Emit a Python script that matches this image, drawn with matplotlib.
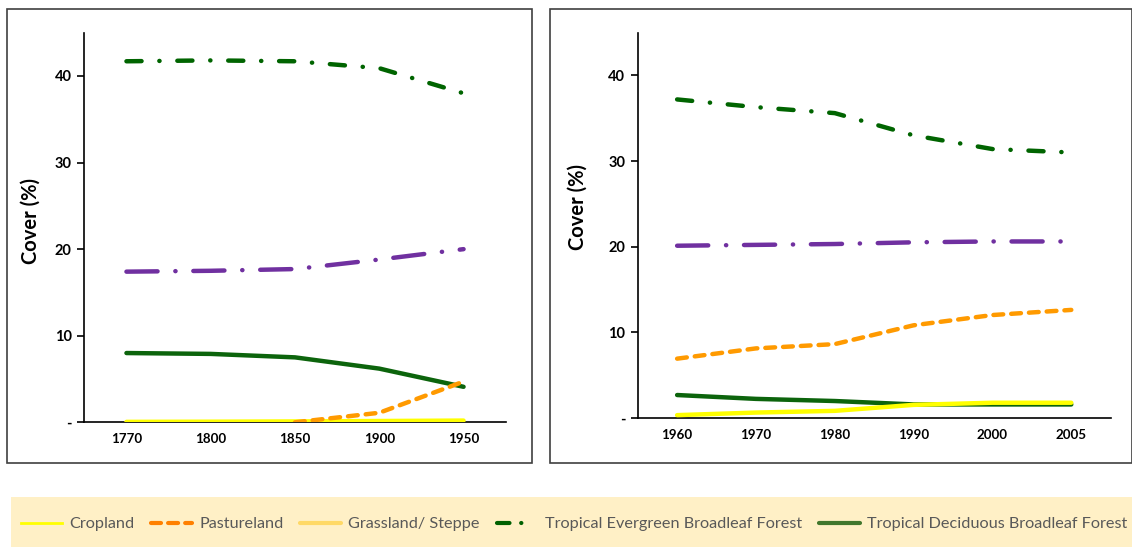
import numpy as np
import matplotlib.pyplot as plt
from matplotlib.lines import Line2D
from matplotlib.patches import Rectangle

# ---- data ----
years_left = ['1770', '1800', '1850', '1900', '1950']
cropland_left = [0.05, 0.07, 0.1, 0.15, 0.2]
pasture_left = [np.nan, np.nan, 0.0, 1.1, 4.7]
evergreen_left = [41.7, 41.8, 41.7, 40.9, 38.0]
purple_left = [17.4, 17.5, 17.7, 18.8, 20.0]
deciduous_left = [8.0, 7.9, 7.5, 6.2, 4.1]

years_right = ['1960', '1970', '1980', '1990', '2000', '2005']
cropland_right = [0.3, 0.6, 0.8, 1.5, 1.75, 1.75]
pasture_right = [6.9, 8.1, 8.6, 10.8, 12.0, 12.6]
evergreen_right = [37.2, 36.3, 35.6, 33.0, 31.4, 31.0]
purple_right = [20.1, 20.2, 20.3, 20.5, 20.6, 20.6]
deciduous_right = [2.65, 2.2, 1.95, 1.55, 1.55, 1.55]

yticks = [0, 10, 20, 30, 40]
ytick_labels = ['-', '10', '20', '30', '40']
legend_names = ['Cropland', 'Pastureland', 'Grassland/ Steppe',
                'Tropical Evergreen Broadleaf Forest',
                'Tropical Deciduous Broadleaf Forest']

W, H = 1132, 547
LW = 3.2
c_crop = '#FFFF00'
c_past = '#FF9A00'
c_ever = '#006400'
c_purp = '#7030A0'
c_deci = '#0C640C'

fig = plt.figure(figsize=(W / 100, H / 100), dpi=100)


def box(x0, y0, x1, y1):
    fig.patches.append(Rectangle((x0 / W, 1 - y1 / H), (x1 - x0) / W, (y1 - y0) / H,
                                 transform=fig.transFigure, fill=False,
                                 edgecolor='#404040', lw=1.2, zorder=0))


box(6.7, 9.3, 531.7, 462.7)
box(550.3, 9.3, 1131.5, 462.7)

# legend band
fig.patches.append(Rectangle((11 / W, 0), 1 - 11 / W, (547 - 496.7) / H,
                             transform=fig.transFigure, facecolor='#FFF0C6',
                             edgecolor='none', zorder=0))


def panel(rect, years, crop, past, ever, purp, deci, label_xy):
    ax = fig.add_axes(rect)
    x = np.arange(len(years))
    ax.plot(x, crop, color=c_crop, lw=LW, solid_capstyle='round', zorder=3)
    ax.plot(x, past, color=c_past, lw=LW, dashes=(2.2, 1.8), dash_capstyle='round', zorder=3)
    ax.plot(x, ever, color=c_ever, lw=LW, dashes=(3.4, 4.0, 0.05, 4.0), dash_capstyle='round', zorder=3)
    ax.plot(x, purp, color=c_purp, lw=LW, dashes=(7.0, 4.0, 0.05, 4.0), dash_capstyle='round', zorder=3)
    ax.plot(x, deci, color=c_deci, lw=LW, solid_capstyle='round', zorder=2)

    ax.set_xlim(-0.5, len(years) - 0.5)
    ax.set_ylim(0, 45)
    ax.set_xticks(x)
    ax.set_xticklabels(years, fontsize=9.6, fontweight='bold', family='Lato')
    ax.set_yticks(yticks)
    ax.set_yticklabels(ytick_labels, fontsize=10.5, fontweight='bold', family='Lato')
    ax.tick_params(axis='x', length=0, pad=8)
    ax.tick_params(axis='y', length=5, width=1.2, direction='out', pad=4)
    for s in ['top', 'right']:
        ax.spines[s].set_visible(False)
    for s in ['left', 'bottom']:
        ax.spines[s].set_linewidth(1.2)
        ax.spines[s].set_color('black')
    ax.patch.set_alpha(0)
    ax.set_ylabel('Cover (%)', fontsize=14.5, fontweight='bold', family='Lato')
    ax.yaxis.set_label_coords(*label_xy)
    return ax


panel([84.3 / W, 1 - 422.3 / H, 421.4 / W, 389.6 / H], years_left,
      cropland_left, pasture_left, evergreen_left, purple_left, deciduous_left,
      (-0.104, 0.517))
panel([637.7 / W, 1 - 417.7 / H, 473 / W, 385 / H], years_right,
      cropland_right, pasture_right, evergreen_right, purple_right, deciduous_right,
      (-0.106, 0.546))

# legend handles
handles = [
    Line2D([], [], color=c_crop, lw=2),
    Line2D([], [], color='#FF8000', lw=3, dashes=(2.4, 1.7), dash_capstyle='round'),
    Line2D([], [], color='#FFD966', lw=3, solid_capstyle='round'),
    Line2D([], [], color='#006000', lw=3, dashes=(3.0, 2.8, 0.05, 10), dash_capstyle='round'),
    Line2D([], [], color='#41772C', lw=3, solid_capstyle='round'),
]
leg = fig.legend(handles, legend_names, loc='center left',
                 bbox_to_anchor=(21 / W, (547 - 524) / H), ncol=5,
                 frameon=False, borderpad=0, borderaxespad=0,
                 handlelength=2.5, handletextpad=0.45, columnspacing=1.05,
                 prop={'family': 'Lato', 'size': 11.7})
for t in leg.get_texts():
    t.set_color('#595959')

fig.savefig('out.png', dpi=100)
